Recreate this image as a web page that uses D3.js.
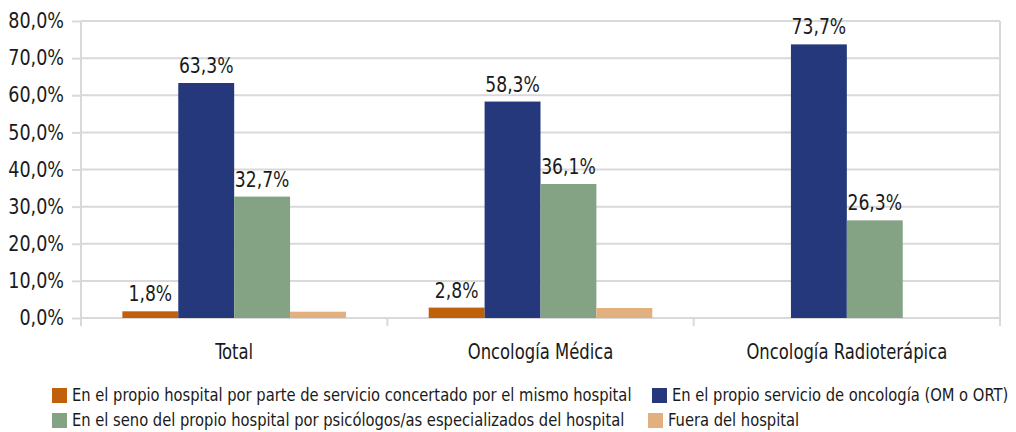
<!DOCTYPE html>
<html lang="es">

<head>
    <meta charset="utf-8" />
    <title>Atención psicológica</title>
    <script src="https://cdn.jsdelivr.net/npm/d3@7"></script>
    <style>
        body {
            margin: 0;
            background: #fff;
        }

        svg text {
            font-family: "DejaVu Sans Condensed", "DejaVu Sans", sans-serif;
            fill: #1a1a1a;
        }

        .y-axis path,
        .x-axis path {
            stroke: none;
        }

        .y-axis line,
        .x-axis line {
            stroke: #d9d9d9;
            stroke-width: 2px;
        }
    </style>
</head>

<body>

</body>

<script>

    let categories = ['Total', 'Oncología Médica', 'Oncología Radioterápica'];
    let series = [
        'En el propio hospital por parte de servicio concertado por el mismo hospital',
        'En el propio servicio de oncología (OM o ORT)',
        'En el seno del propio hospital por psicólogos/as especializados del hospital',
        'Fuera del hospital'
    ];
    let concertado = [1.8, 2.8, 0];
    let propioServicio = [63.3, 58.3, 73.7];
    let senoHospital = [32.7, 36.1, 26.3];
    let fuera = [1.7, 2.7, 0];
    let yTicks = [0, 10, 20, 30, 40, 50, 60, 70, 80];

    let colors = ['#c0600a', '#24387b', '#84a284', '#e2af7e'];
    let values = [concertado, propioServicio, senoHospital, fuera];
    let showLabel = [true, true, true, false];

    let margin = { top: 21, left: 81, right: 16, bottom: 114 };
    let width = 1016, height = 432;
    let plotW = width - margin.left - margin.right,
        plotH = height - margin.top - margin.bottom;

    let fmt = v => v.toFixed(1).replace('.', ',') + '%';

    // squeeze text horizontally, the original uses a condensed font
    function condense(sel, k) {
        sel.each(function () {
            let t = d3.select(this);
            let tx = +t.attr('x') || 0,
                ty = +t.attr('y') || 0;
            t.attr('x', 0)
                .attr('y', 0)
                .attr('transform', `translate(${tx},${ty}) scale(${k},1)`);
        });
    }

    let svg = d3.select('body')
        .append('svg')
        .attr('width', width)
        .attr('height', height);

    let g = svg.append('g')
        .attr('transform', `translate(${margin.left},${margin.top})`);

    let x0 = d3.scaleBand()
        .domain(categories)
        .range([0, plotW])
        .padding(0);

    let x1 = d3.scaleBand()
        .domain(d3.range(series.length))
        .range([0, x0.bandwidth()])
        .paddingInner(0)
        .paddingOuter(0.74);

    let y = d3.scaleLinear()
        .domain([0, 80])
        .range([plotH, 0]);

    // grid lines
    g.selectAll('.grid')
        .data(yTicks)
        .enter().append('line')
        .attr('class', 'grid')
        .attr('x1', 0)
        .attr('x2', plotW)
        .attr('y1', d => y(d))
        .attr('y2', d => y(d))
        .style('stroke', '#d9d9d9')
        .style('stroke-width', '2px');

    // y axis
    g.append('g')
        .attr('class', 'y-axis')
        .call(d3.axisLeft(y).tickValues(yTicks).tickSize(9).tickPadding(8).tickFormat(fmt))
        .call(a => a.selectAll('text').style('font-size', '21px').call(condense, 0.93));

    // vertical borders
    [0, plotW].forEach(xx => {
        g.append('line')
            .attr('x1', xx).attr('x2', xx)
            .attr('y1', 0).attr('y2', plotH + 8)
            .style('stroke', '#d9d9d9')
            .style('stroke-width', '2px');
    });

    // category ticks
    g.selectAll('.cat-tick')
        .data(categories.slice(1))
        .enter().append('line')
        .attr('x1', d => x0(d))
        .attr('x2', d => x0(d))
        .attr('y1', plotH)
        .attr('y2', plotH + 8)
        .style('stroke', '#d9d9d9')
        .style('stroke-width', '2px');

    // x axis labels
    g.append('g')
        .attr('class', 'x-axis')
        .attr('transform', `translate(0,${plotH})`)
        .call(d3.axisBottom(x0).tickSize(0).tickPadding(25))
        .call(a => a.selectAll('text').style('font-size', '22px').call(condense, 0.83));

    // bars
    let group = g.selectAll('.cat')
        .data(categories)
        .enter().append('g')
        .attr('class', 'cat')
        .attr('transform', d => `translate(${x0(d)},0)`);

    group.selectAll('rect')
        .data((d, ci) => values.map((v, si) => ({ si: si, v: v[ci] })))
        .enter().append('rect')
        .attr('x', d => x1(d.si))
        .attr('width', x1.bandwidth())
        .attr('y', d => y(d.v))
        .attr('height', d => plotH - y(d.v))
        .style('fill', d => colors[d.si]);

    group.selectAll('.lbl')
        .data((d, ci) => values.map((v, si) => ({ si: si, v: v[ci] })).filter(d => showLabel[d.si] && d.v > 0))
        .enter().append('text')
        .attr('class', 'lbl')
        .attr('x', d => x1(d.si) + x1.bandwidth() / 2)
        .attr('y', d => y(d.v) - 10)
        .attr('text-anchor', 'middle')
        .style('font-size', '21px')
        .text(d => fmt(d.v))
        .call(condense, 0.91);

    // legend
    let legendPos = [
        { x: 52, y: 395 },
        { x: 652, y: 395 },
        { x: 52, y: 420 },
        { x: 648, y: 420 }
    ];

    let legend = svg.selectAll('.legend')
        .data(series)
        .enter().append('g')
        .attr('class', 'legend')
        .attr('transform', (d, i) => `translate(${legendPos[i].x},${legendPos[i].y})`);

    legend.append('rect')
        .attr('x', 0)
        .attr('y', -7)
        .attr('width', 15)
        .attr('height', 15)
        .style('fill', (d, i) => colors[i]);

    legend.append('text')
        .attr('x', 20)
        .attr('y', 0)
        .attr('dy', '0.35em')
        .style('font-size', '18px')
        .text(d => d)
        .call(condense, 0.91);

</script>

</html>
